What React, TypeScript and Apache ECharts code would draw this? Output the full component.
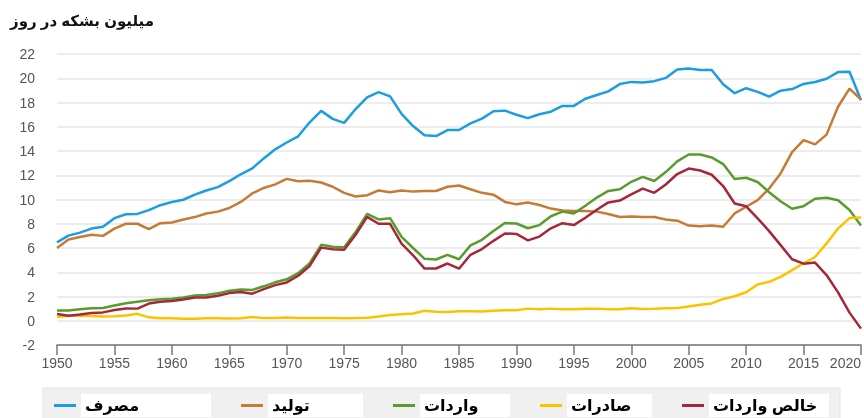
import React, { useEffect, useRef } from "react";
import * as echarts from "echarts";

const years: number[] = [];
for (let y = 1950; y <= 2020; y++) years.push(y);

const seriesNames = ["مصرف", "تولید", "واردات", "صادرات", "خالص واردات"];
const titleText = "میلیون بشکه در روز";
const yTicks = { min: -2, max: 22, step: 2 };
const xTicks = { min: 1950, max: 2020, step: 5 };

const consumption = [
  6.46, 7.02, 7.27, 7.6, 7.76, 8.46, 8.78, 8.81, 9.12, 9.53,
  9.8, 9.98, 10.4, 10.74, 11.02, 11.51, 12.08, 12.56, 13.39, 14.14,
  14.7, 15.21, 16.37, 17.31, 16.65, 16.32, 17.46, 18.43, 18.85, 18.51,
  17.06, 16.06, 15.3, 15.23, 15.73, 15.73, 16.28, 16.67, 17.28, 17.33,
  16.99, 16.71, 17.03, 17.24, 17.72, 17.72, 18.31, 18.62, 18.92, 19.52,
  19.7, 19.65, 19.76, 20.03, 20.73, 20.8, 20.69, 20.68, 19.5, 18.77,
  19.18, 18.88, 18.49, 18.97, 19.11, 19.53, 19.69, 19.96, 20.51, 20.54, 18.19,
];

const production = [
  6.0, 6.7, 6.9, 7.1, 7.0, 7.6, 8.0, 8.0, 7.55, 8.05,
  8.1, 8.35, 8.55, 8.85, 9.0, 9.3, 9.8, 10.5, 10.95, 11.25,
  11.7, 11.5, 11.55, 11.4, 11.05, 10.55, 10.25, 10.35, 10.75, 10.6,
  10.75, 10.65, 10.7, 10.7, 11.05, 11.15, 10.85, 10.55, 10.4, 9.8,
  9.6, 9.75, 9.55, 9.25, 9.1, 9.05, 9.05, 9.0, 8.8, 8.55,
  8.6, 8.55, 8.55, 8.35, 8.25, 7.85, 7.8, 7.85, 7.75, 8.85,
  9.4, 9.95, 10.9, 12.15, 13.9, 14.9, 14.55, 15.35, 17.65, 19.15, 18.25,
];

const imports = [
  0.85, 0.84, 0.95, 1.03, 1.05, 1.25, 1.44, 1.57, 1.7, 1.78,
  1.82, 1.92, 2.08, 2.12, 2.26, 2.47, 2.57, 2.54, 2.84, 3.17,
  3.42, 3.93, 4.74, 6.26, 6.11, 6.06, 7.31, 8.81, 8.36, 8.46,
  6.91, 6.0, 5.11, 5.05, 5.44, 5.07, 6.22, 6.68, 7.4, 8.06,
  8.02, 7.63, 7.89, 8.62, 9.0, 8.84, 9.48, 10.16, 10.71, 10.85,
  11.46, 11.87, 11.53, 12.26, 13.15, 13.71, 13.71, 13.47, 12.92, 11.69,
  11.79, 11.44, 10.6, 9.86, 9.24, 9.45, 10.06, 10.14, 9.94, 9.14, 7.86,
];

const exportsData = [
  0.31, 0.42, 0.43, 0.4, 0.36, 0.37, 0.43, 0.57, 0.28, 0.21,
  0.2, 0.17, 0.17, 0.21, 0.2, 0.19, 0.2, 0.31, 0.23, 0.23,
  0.26, 0.22, 0.22, 0.23, 0.22, 0.21, 0.22, 0.24, 0.36, 0.47,
  0.54, 0.6, 0.82, 0.74, 0.72, 0.78, 0.79, 0.76, 0.82, 0.86,
  0.86, 1.0, 0.95, 1.0, 0.94, 0.95, 0.98, 1.0, 0.95, 0.94,
  1.04, 0.97, 0.98, 1.03, 1.05, 1.17, 1.32, 1.43, 1.8, 2.02,
  2.35, 2.99, 3.21, 3.62, 4.18, 4.74, 5.26, 6.38, 7.6, 8.47, 8.51,
];

const netImports = [
  0.55, 0.42, 0.52, 0.63, 0.69, 0.88, 1.01, 1.0, 1.42, 1.57,
  1.62, 1.75, 1.91, 1.91, 2.06, 2.28, 2.37, 2.23, 2.61, 2.94,
  3.16, 3.71, 4.52, 6.03, 5.89, 5.85, 7.09, 8.57, 8.0, 7.99,
  6.37, 5.4, 4.3, 4.31, 4.72, 4.29, 5.44, 5.91, 6.59, 7.2,
  7.16, 6.63, 6.94, 7.62, 8.05, 7.89, 8.5, 9.16, 9.76, 9.91,
  10.42, 10.9, 10.55, 11.24, 12.1, 12.55, 12.39, 12.04, 11.11, 9.67,
  9.44, 8.45, 7.39, 6.24, 5.07, 4.71, 4.8, 3.77, 2.34, 0.67, -0.65,
];

const allSeries = [consumption, production, imports, exportsData, netImports];
const colors = ["#1b9de0", "#c67a34", "#5a9b2e", "#fcc200", "#a5283a"];
const legendBoxWidths = [122, 87, 82, 77, 112];

const FONT = "'Liberation Sans', Arial, 'DejaVu Sans', sans-serif";

export default function App() {
  const ref = useRef<HTMLDivElement>(null);
  useEffect(() => {
    if (!ref.current) return;
    const chart = echarts.init(ref.current, undefined, { renderer: "svg" });
    chart.setOption({
      animation: false,
      textStyle: { fontFamily: FONT },
      title: {
        text: titleText,
        left: 10,
        top: 13,
        padding: 0,
        textStyle: { fontSize: 15, fontWeight: "bold", color: "#111", fontFamily: FONT },
      },
      grid: { left: 57, right: 2, top: 54, bottom: 73, containLabel: false },
      graphic: [
        {
          type: "rect",
          z: 0,
          shape: { x: 43, y: 388, width: 797, height: 40 },
          style: { fill: "#f0f0f0", stroke: "#e2e2e2", lineWidth: 1 },
        },
      ],
      legend: {
        left: 54,
        top: 394,
        z: 5,
        padding: 0,
        icon: "rect",
        itemWidth: 22,
        itemHeight: 3,
        itemGap: 30,
        data: seriesNames.map((n, i) => ({
          name: n,
          textStyle: { width: legendBoxWidths[i] },
        })),
        textStyle: {
          fontSize: 16,
          fontWeight: "bold",
          color: "#000",
          fontFamily: FONT,
          backgroundColor: "#fff",
          padding: [3, 4, 4, 4],
        },
      },
      xAxis: {
        type: "value",
        min: xTicks.min,
        max: xTicks.max,
        interval: xTicks.step,
        axisLine: { show: true, onZero: false, lineStyle: { color: "#777", width: 1.5 } },
        axisTick: { show: true, length: 10, lineStyle: { color: "#777", width: 1.5 } },
        axisLabel: {
          color: "#555",
          fontSize: 14,
          margin: 11,
          fontFamily: FONT,
          alignMaxLabel: "right",
          formatter: (v: number) => String(v),
        },
        splitLine: { show: false },
      },
      yAxis: {
        type: "value",
        min: yTicks.min,
        max: yTicks.max,
        interval: yTicks.step,
        axisLine: { show: false },
        axisTick: { show: false },
        axisLabel: { color: "#555", fontSize: 14, margin: 22, fontFamily: FONT },
        splitLine: { show: true, lineStyle: { color: "#e6e6e6", width: 1.5 } },
      },
      series: seriesNames.map((n, i) => ({
        name: n,
        type: "line",
        symbol: "none",
        color: colors[i],
        lineStyle: { width: 2.5, color: colors[i] },
        data: years.map((y, k) => [y, allSeries[i][k]]),
      })),
    });
    return () => chart.dispose();
  }, []);
  return (
    <div
      ref={ref}
      style={{ position: "fixed", left: 0, top: 0, width: 864, height: 418 }}
    />
  );
}
